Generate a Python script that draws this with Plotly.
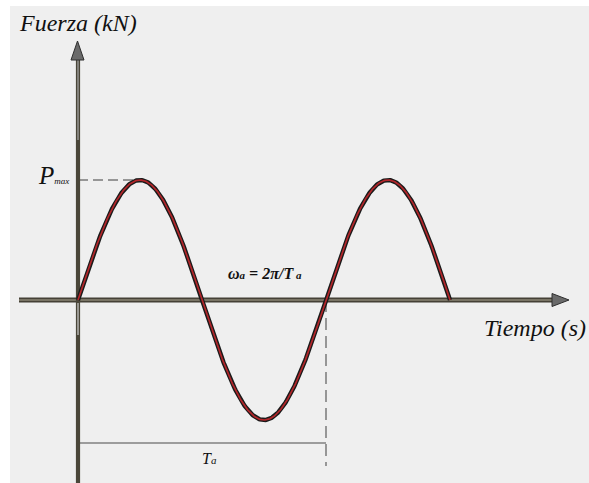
import numpy as np
import plotly.graph_objects as go

# Load parameters of the harmonic force P(t) = Pmax * sin(wa * t)
PERIOD_TA = 1.0          # Ta, in seconds (normalised)
P_MAX = 1.0              # Pmax, in kN (normalised)
CYCLES = 1.5             # number of cycles drawn

omega_a = 2 * np.pi / PERIOD_TA
t = np.linspace(0.0, CYCLES * PERIOD_TA, 600)
force = P_MAX * np.sin(omega_a * t)

W, H = 589, 483
SERIF = "Liberation Serif"
# scale: time axis origin at x=78 px, 248 px per period; force origin at y=300 px, 120 px per Pmax
X0_PX, X_SCALE = 78.0, 248.0
Y0_PX, Y_SCALE = 300.0, 120.0


def px_x(px):
    return (px - X0_PX) / X_SCALE


def px_y(py):
    return (Y0_PX - py) / Y_SCALE


fig = go.Figure()

# curve: dark outline with a red core
fig.add_trace(go.Scatter(x=t, y=force, mode="lines",
                         line=dict(color="#1a1a1a", width=4.4),
                         hoverinfo="skip", showlegend=False))
fig.add_trace(go.Scatter(x=t, y=force, mode="lines",
                         line=dict(color="#b3262a", width=1.7),
                         hoverinfo="skip", showlegend=False))

shapes = []
# grey page area
shapes.append(dict(type="rect", xref="paper", yref="paper",
                   x0=10 / W, x1=1, y0=0, y1=1 - 6 / H,
                   fillcolor="#efefef", line=dict(width=0), layer="below"))

# Pmax dashed guide
shapes.append(dict(type="line", x0=0, x1=PERIOD_TA / 4, y0=P_MAX, y1=P_MAX,
                   line=dict(color="#7a7a7a", width=1.6, dash="10px,5px"), layer="below"))
# Ta vertical dashed guide
shapes.append(dict(type="line", x0=PERIOD_TA, x1=PERIOD_TA, y0=0, y1=px_y(466),
                   line=dict(color="#808080", width=1.6, dash="12px,6px"), layer="below"))
# Ta span line
shapes.append(dict(type="line", x0=0, x1=PERIOD_TA, y0=px_y(443), y1=px_y(443),
                   line=dict(color="#808080", width=1.6), layer="below"))

# time axis shaft (tube look)
shapes.append(dict(type="line", x0=px_x(19), x1=px_x(555), y0=0, y1=0,
                   line=dict(color="#454136", width=5), layer="below"))
shapes.append(dict(type="line", x0=px_x(19), x1=px_x(555), y0=0, y1=0,
                   line=dict(color="#8b8676", width=1.6), layer="below"))
# force axis shaft
shapes.append(dict(type="line", x0=0, x1=0, y0=px_y(483), y1=px_y(58),
                   line=dict(color="#4a4639", width=4.2), layer="below"))
shapes.append(dict(type="line", x0=0, x1=0, y0=px_y(303), y1=px_y(335),
                   line=dict(color="#cfcfcf", width=1.2), layer="below"))
shapes.append(dict(type="line", x0=0, x1=0, y0=px_y(60), y1=px_y(140),
                   line=dict(color="#a8a8a8", width=1.2), layer="below"))

# arrow heads
def tri(pts):
    p = "M " + " L ".join(f"{px_x(a)},{px_y(b)}" for a, b in pts) + " Z"
    return dict(type="path", path=p, fillcolor="#6a6a6a",
                line=dict(color="#2e2e2e", width=1))

shapes.append(tri([(552, 293.5), (569, 300), (552, 306.5)]))
shapes.append(tri([(71, 60), (77.5, 41), (84, 60)]))

annotations = [
    dict(text="<i>Fuerza (kN)</i>", x=17 / W, y=1 - 23 / H, xref="paper", yref="paper",
         xanchor="left", yanchor="middle", showarrow=False,
         font=dict(family=SERIF, size=24, color="#111111")),
    dict(text="<i>Tiempo (s)</i>", x=482 / W, y=1 - 328 / H, xref="paper", yref="paper",
         xanchor="left", yanchor="middle", showarrow=False,
         font=dict(family=SERIF, size=24, color="#111111")),
    dict(text="<i>P<span style='font-size:9px'>max</span></i>",
         x=px_x(71), y=P_MAX + px_y(175) - px_y(180), xanchor="right", yanchor="middle",
         showarrow=False, font=dict(family=SERIF, size=25, color="#111111")),
    dict(text="<b><i>ω<span style='font-size:11px'>a</span> = 2π/T<span style='font-size:11px'> a</span></i></b>",
         x=px_x(265), y=px_y(273), xanchor="center", yanchor="middle",
         showarrow=False, font=dict(family=SERIF, size=16, color="#111111")),
    dict(text="<i>T<span style='font-size:11px'>a</span></i>",
         x=PERIOD_TA * 0.53, y=px_y(458), xanchor="center", yanchor="middle",
         showarrow=False, font=dict(family=SERIF, size=16, color="#111111")),
]

fig.update_layout(
    width=W, height=H,
    margin=dict(l=0, r=0, t=0, b=0),
    paper_bgcolor="white", plot_bgcolor="rgba(0,0,0,0)",
    xaxis=dict(range=[px_x(0), px_x(W)], visible=False, fixedrange=True),
    yaxis=dict(range=[px_y(H), px_y(0)], visible=False, fixedrange=True),
    shapes=shapes, annotations=annotations,
)

fig.write_html("out.html", config={"displayModeBar": False})
